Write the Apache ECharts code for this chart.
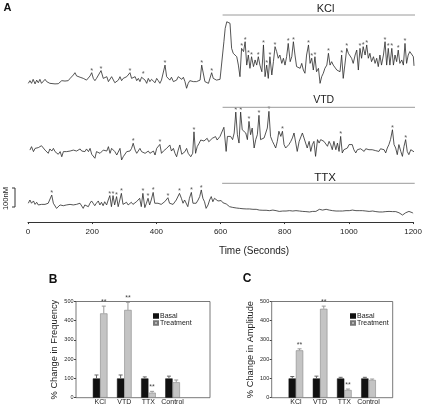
<!DOCTYPE html>
<html><head><meta charset="utf-8">
<script src="https://cdn.jsdelivr.net/npm/echarts@6/dist/echarts.min.js"></script>
<style>html,body{margin:0;padding:0;background:#fff}#c{width:425px;height:410px}</style>
</head><body><div id="c"></div>
<script>
// ---- Panel A traces: [time (s), Ca2+ change (nM, relative to baseline)] ----
const kclTrace = [[1,-7],[6,7],[11,-7],[16,14],[22,-10],[27,10],[32,-4],[37,14],[42,-7],[48,2],[53,14],[58,2],[63,0],[68,-7],[74,-7],[84,-10],[94,-9],[100,-4],[105,7],[115,5],[120,10],[125,7],[131,19],[136,28],[141,37],[146,49],[151,32],[157,28],[162,25],[167,32],[172,19],[177,14],[182,10],[188,14],[193,32],[198,49],[203,19],[208,7],[213,19],[219,28],[227,60],[234,19],[239,10],[245,28],[250,2],[255,-7],[260,28],[265,32],[270,-4],[276,-10],[281,10],[286,28],[291,7],[296,19],[302,25],[307,28],[312,32],[317,49],[322,19],[327,10],[333,28],[338,7],[343,19],[348,2],[353,25],[358,32],[364,10],[369,-7],[374,19],[379,2],[384,14],[390,7],[395,-4],[400,19],[405,7],[410,-7],[415,10],[421,14],[426,89],[431,28],[436,19],[441,10],[446,25],[452,2],[457,-7],[462,10],[467,28],[472,32],[478,14],[483,25],[488,2],[493,-33],[498,-7],[503,7],[509,14],[514,2],[519,-4],[524,2],[530,0],[535,10],[540,89],[550,2],[555,-4],[561,-7],[566,-7],[571,49],[576,19],[581,28],[586,10],[592,5],[597,14],[603,19],[609,212],[613,282],[618,317],[623,326],[628,309],[633,177],[638,151],[644,142],[649,133],[654,89],[659,28],[664,177],[670,160],[675,212],[680,89],[685,142],[690,72],[695,133],[701,81],[706,116],[711,89],[716,133],[721,89],[727,54],[732,195],[737,28],[742,89],[747,19],[752,133],[758,37],[763,107],[768,186],[773,160],[778,125],[783,142],[789,98],[794,125],[799,89],[804,133],[809,203],[815,107],[820,133],[825,212],[830,142],[835,81],[840,89],[846,72],[851,98],[856,63],[861,46],[866,142],[872,195],[877,98],[882,125],[887,63],[892,133],[897,54],[903,72],[908,-7],[913,28],[918,46],[923,72],[929,89],[934,151],[939,89],[944,107],[949,89],[954,81],[960,63],[965,54],[970,54],[975,142],[980,19],[985,89],[991,177],[996,151],[1001,160],[1006,125],[1011,98],[1017,142],[1022,168],[1027,63],[1032,177],[1037,125],[1042,186],[1048,142],[1053,195],[1058,125],[1063,151],[1068,107],[1074,133],[1079,98],[1084,125],[1089,81],[1094,142],[1099,89],[1105,142],[1110,212],[1115,89],[1120,177],[1125,89],[1131,177],[1136,89],[1141,142],[1146,107],[1151,168],[1156,98],[1162,116],[1167,89],[1172,203],[1177,98],[1182,142],[1187,160],[1193,151],[1198,133],[1200,85]];
const kclPeaks = [198,227,317,358,426,540,571,664,675,685,695,716,732,742,752,768,809,825,872,882,892,934,975,991,1032,1042,1053,1110,1120,1131,1151,1172];

const vtdTrace = [[6,-11],[11,7],[17,-19],[22,-2],[27,-11],[32,2],[37,-5],[42,12],[48,19],[53,-11],[58,-19],[63,-28],[68,-5],[74,-16],[79,-2],[84,-19],[89,-11],[94,-33],[100,-19],[105,-46],[110,-19],[115,-16],[120,-19],[125,-28],[131,-16],[136,-19],[141,-11],[146,-19],[151,-16],[157,-11],[162,-5],[167,-16],[172,-11],[177,-19],[182,-5],[188,-19],[193,-2],[198,-33],[203,-28],[208,-54],[213,-19],[219,-11],[224,-28],[229,-19],[234,-11],[239,-2],[245,-16],[250,7],[255,-28],[260,-2],[265,-11],[270,-19],[276,-37],[281,-28],[286,-2],[291,-63],[296,-46],[302,-37],[307,-19],[312,-11],[317,-16],[322,-2],[327,25],[333,-11],[338,-28],[343,-19],[348,-2],[353,-19],[358,-11],[364,-28],[369,-19],[374,-16],[379,-28],[384,-19],[390,-16],[395,-37],[400,-2],[405,-5],[410,19],[415,-28],[421,-16],[426,-19],[431,-2],[436,-11],[441,16],[446,-16],[452,-2],[457,-28],[462,-46],[467,-11],[472,16],[478,-33],[483,-37],[488,-19],[493,-2],[498,-28],[506,-46],[512,-28],[516,85],[521,-28],[526,7],[532,25],[537,42],[542,33],[547,37],[552,42],[557,51],[562,33],[568,25],[573,51],[578,42],[583,60],[588,42],[594,51],[597,61],[602,53],[609,109],[616,-18],[620,61],[626,53],[630,61],[636,44],[641,79],[646,189],[651,70],[656,26],[661,189],[666,96],[672,88],[677,79],[682,44],[687,140],[692,70],[697,105],[703,0],[708,44],[713,70],[718,172],[723,44],[729,35],[734,53],[739,44],[744,105],[749,193],[754,61],[760,35],[765,18],[770,0],[775,35],[780,88],[786,61],[791,88],[796,18],[801,0],[806,9],[811,18],[817,35],[822,53],[827,79],[832,88],[837,-18],[843,35],[848,44],[853,79],[858,53],[863,44],[868,0],[874,35],[879,-18],[884,18],[889,35],[894,-44],[900,44],[905,26],[910,44],[915,53],[920,35],[925,44],[931,9],[936,35],[941,18],[946,-9],[951,35],[957,-9],[962,26],[967,-18],[972,61],[977,-26],[982,-9],[988,-18],[993,0],[998,18],[1003,26],[1008,18],[1013,-9],[1019,-26],[1024,-9],[1029,-18],[1034,-4],[1039,-14],[1045,-18],[1050,-4],[1055,-14],[1060,-9],[1065,0],[1070,-9],[1076,-4],[1081,-14],[1086,-9],[1091,-18],[1096,-4],[1102,-14],[1107,-9],[1112,-26],[1117,0],[1122,18],[1127,44],[1133,96],[1138,18],[1143,0],[1148,-35],[1153,18],[1159,-18],[1164,-44],[1169,9],[1174,44],[1179,-18],[1184,-35],[1190,-9],[1195,0],[1200,-20]];
const vtdPeaks = [327,410,516,646,661,687,718,749,791,972,1133,1174];

const ttxTrace = [[1,4],[6,21],[11,4],[17,16],[22,-2],[27,9],[32,-5],[37,4],[42,-2],[48,-9],[53,-2],[58,-9],[63,4],[68,12],[74,47],[79,4],[84,4],[89,-23],[94,-23],[100,-5],[105,-2],[110,-9],[115,-2],[120,-5],[125,4],[131,-2],[136,4],[141,-5],[146,4],[151,-2],[157,-9],[162,4],[167,-5],[172,-23],[177,-5],[182,4],[188,-14],[193,4],[198,16],[203,4],[208,-9],[213,4],[219,16],[224,-5],[229,9],[234,-9],[239,12],[245,-5],[250,21],[255,44],[260,-14],[265,44],[270,-5],[276,39],[281,-14],[286,21],[291,56],[296,-2],[302,4],[307,9],[312,-5],[317,4],[322,9],[327,-2],[333,4],[338,12],[343,21],[348,30],[353,-14],[358,56],[364,-19],[369,4],[374,30],[379,-5],[384,21],[390,61],[395,4],[400,-2],[405,4],[410,9],[415,-2],[421,4],[426,12],[431,21],[436,33],[441,4],[446,9],[452,-2],[457,4],[462,21],[467,12],[472,56],[478,30],[483,4],[488,21],[493,12],[498,-14],[503,30],[509,61],[514,4],[519,-5],[524,4],[530,21],[535,39],[540,74],[545,30],[550,12],[555,-23],[561,-5],[566,21],[571,39],[576,12],[581,30],[586,40],[592,16],[597,21],[602,18],[607,7],[613,12],[618,0],[623,-5],[628,-14],[633,-11],[638,-18],[644,-14],[649,-21],[654,-18],[659,-23],[664,-19],[670,-25],[675,-21],[680,-26],[685,-23],[690,-26],[695,-25],[701,-28],[706,-26],[711,-28],[716,-28],[721,-32],[727,-28],[732,-33],[737,-26],[742,-33],[747,-28],[752,-35],[758,-25],[763,-32],[768,-28],[773,-35],[778,-32],[783,-39],[789,-35],[794,-37],[799,-39],[804,-37],[809,-39],[815,-35],[820,-39],[825,-37],[830,-40],[835,-35],[840,-39],[846,-37],[851,-32],[856,-39],[861,-33],[866,-40],[872,-35],[877,-42],[882,-32],[887,-39],[892,-35],[897,-39],[903,-33],[908,-28],[913,-35],[918,-32],[923,-37],[929,-28],[934,-35],[939,-32],[944,-37],[949,-35],[954,-40],[960,-37],[965,-40],[970,-37],[975,-42],[980,-37],[985,-40],[991,-35],[996,-40],[1001,-35],[1006,-39],[1011,-32],[1017,-39],[1022,-35],[1027,-40],[1032,-35],[1037,-39],[1042,-35],[1048,-40],[1053,-37],[1058,-42],[1063,-39],[1068,-42],[1074,-37],[1079,-42],[1084,-40],[1089,-46],[1094,-42],[1099,-49],[1105,-42],[1110,-47],[1115,-40],[1120,-46],[1125,-39],[1131,-44],[1136,-40],[1141,-47],[1146,-40],[1151,-37],[1156,-46],[1162,-39],[1167,-58],[1172,-49],[1177,-46],[1182,-42],[1187,-39],[1193,-40],[1198,-46],[1200,-49]];
const ttxPeaks = [74,255,265,276,291,358,374,390,436,472,509,540];

const treatStart = 605, treatEnd = 1205;

// ---- Panels B and C ----
const categories = ['KCl','VTD','TTX','Control'];
const freqBasal = [100,100,100,100];
const freqBasalErr = [18,18,8,12];
const freqTreat = [438,456,26,80];
const freqTreatErr = [38,40,7,12];
const freqSig = ['**','**','**',''];
const ampBasal = [100,100,100,100];
const ampBasalErr = [10,12,6,6];
const ampTreat = [246,462,40,92];
const ampTreatErr = [8,14,5,5];
const ampSig = ['**','**','**',''];

// ---- layout ----
const FONT = 'Liberation Sans, Arial, Helvetica, sans-serif';
const S = 100/19;            // nM per pixel (100 nM scale bar = 19 px)
function traceGrid(basePx, min, max){ return {left:28, width:386, top: basePx - max/S, height:(max-min)/S}; }
const T = [
  {data:kclTrace, peaks:kclPeaks, base:82,  min:-70, max:360, linePx:15},
  {data:vtdTrace, peaks:vtdPeaks, base:148, min:-70, max:220, linePx:107.3},
  {data:ttxTrace, peaks:ttxPeaks, base:204, min:-95, max:115, linePx:183.3}
];
const BAR_W = 7.3;
const chart = echarts.init(document.getElementById('c'), null, {renderer:'canvas'});

const grids = T.map(t => traceGrid(t.base, t.min, t.max));
grids.push({left:76, top:301.5, width:134, height:96.2, show:true, borderColor:'#555', borderWidth:0.8, backgroundColor:'transparent'});
grids.push({left:271.7, top:301.5, width:121, height:96.2, show:true, borderColor:'#555', borderWidth:0.8, backgroundColor:'transparent'});

const xAxes = T.map((t,i) => ({
  type:'value', gridIndex:i, min:0, max:1200, interval:200, show:i===2,
  axisLine:{onZero:false, lineStyle:{color:'#333', width:1}},
  axisTick:{length:2, lineStyle:{color:'#333'}},
  axisLabel:{fontSize:8, color:'#222', fontFamily:FONT, margin:6, formatter:v => String(v)},
  splitLine:{show:false}
}));
function catAxis(gi, max){
  return {type:'value', gridIndex:gi, min:-1, max:max, interval:1,
    axisLine:{show:false, onZero:false}, axisTick:{show:false}, splitLine:{show:false},
    axisLabel:{fontSize:7, color:'#222', fontFamily:FONT, margin:1,
      formatter:v => (Number.isInteger(v) && v>=0 && v<categories.length) ? categories[v] : ''}};
}
xAxes.push(catAxis(3, 4.55));
xAxes.push(catAxis(4, 4));

const yAxes = T.map((t,i) => ({type:'value', gridIndex:i, min:t.min, max:t.max, show:false}));
function pctAxis(gi, name){
  return {type:'value', gridIndex:gi, min:0, max:500, interval:100,
    axisLine:{show:false, onZero:false}, splitLine:{show:false},
    axisTick:{show:true, length:2, lineStyle:{color:'#444'}},
    axisLabel:{fontSize:5.5, color:'#222', fontFamily:FONT, margin:2.5},
    name:name, nameLocation:'middle', nameGap:17, nameRotate:90,
    nameTextStyle:{fontSize:9.3, color:'#222', fontFamily:FONT}};
}
yAxes.push(pctAxis(3, '% Change in Frequency'));
yAxes.push(pctAxis(4, '% Change in Amplitude'));

const series = [];
T.forEach((t,i) => {
  series.push({type:'line', xAxisIndex:i, yAxisIndex:i, data:t.data, symbol:'none', silent:true,
    lineStyle:{color:'#2a2a2a', width:0.8}});
  const yv = (t.base - t.linePx)*S;
  series.push({type:'line', xAxisIndex:i, yAxisIndex:i, symbol:'none', silent:true, clip:false,
    data:[[treatStart,yv],[treatEnd,yv]], lineStyle:{color:'#9a9a9a', width:1}});
  series.push({type:'scatter', xAxisIndex:i, yAxisIndex:i, symbolSize:0, silent:true,
    data:t.data.filter(d => t.peaks.indexOf(d[0]) >= 0),
    label:{show:true, formatter:'*', position:'top', distance:-2, fontSize:7.5, color:'#333', fontFamily:FONT}});
});

function barSeries(gi, name, vals, color, border){
  return {type:'bar', name:name, xAxisIndex:gi, yAxisIndex:gi, barWidth:BAR_W, barGap:'0%',
    data:vals.map((v,i)=>[i,v]), silent:true,
    itemStyle:{color:color, borderColor:border, borderWidth:0.5}};
}
function errSeries(gi, vals, errs, side, color, sig){
  return {type:'custom', xAxisIndex:gi, yAxisIndex:gi, silent:true, z:5,
    data:vals.map((v,i)=>[i,v,errs[i]]),
    renderItem:(params, api) => {
      const x = api.value(0), v = api.value(1), e = api.value(2);
      const p0 = api.coord([x,v]), p1 = api.coord([x,v+e]);
      const cx = p0[0] + side*BAR_W/2;
      const ch = [
        {type:'line', shape:{x1:cx,y1:p0[1],x2:cx,y2:p1[1]}, style:{stroke:color, lineWidth:1}},
        {type:'line', shape:{x1:cx-2,y1:p1[1],x2:cx+2,y2:p1[1]}, style:{stroke:color, lineWidth:1}}
      ];
      const s = sig ? sig[params.dataIndex] : '';
      if (s) ch.push({type:'text', style:{text:s, x:cx, y:p1[1]-0.5, align:'center', verticalAlign:'bottom',
        fontSize:7, fontFamily:FONT, fill:'#444'}});
      return {type:'group', children:ch};
    }};
}
const BASAL_C = '#111', TREAT_C = '#c4c4c4';
series.push(barSeries(3,'Basal',freqBasal,BASAL_C,'#111'));
series.push(barSeries(3,'Treatment',freqTreat,TREAT_C,'#777'));
series.push(errSeries(3,freqBasal,freqBasalErr,-1,'#666',null));
series.push(errSeries(3,freqTreat,freqTreatErr,1,'#999',freqSig));
series.push(barSeries(4,'Basal',ampBasal,BASAL_C,'#111'));
series.push(barSeries(4,'Treatment',ampTreat,TREAT_C,'#777'));
series.push(errSeries(4,ampBasal,ampBasalErr,-1,'#666',null));
series.push(errSeries(4,ampTreat,ampTreatErr,1,'#999',ampSig));

function legendAt(left){
  return {left:left, top:307.5, orient:'vertical', itemWidth:4, itemHeight:3.5, itemGap:0,
    icon:'rect', selectedMode:false, data:['Basal','Treatment'],
    textStyle:{fontSize:7, lineHeight:7, color:'#222', fontFamily:FONT, padding:[0,0,0,-3]}};
}

const txt = (x,y,text,size,extra) => Object.assign({type:'text', x:x, y:y, silent:true,
  style:Object.assign({text:text, fontSize:size, fontFamily:FONT, fill:'#222', align:'center', verticalAlign:'middle'}, extra||{})});

chart.setOption({
  animation:false,
  textStyle:{fontFamily:FONT},
  grid:grids, xAxis:xAxes, yAxis:yAxes, series:series,
  legend:[legendAt(148), legendAt(345)],
  graphic:[
    txt(7.5,8,'A',11,{fontWeight:'bold', fill:'#111'}),
    txt(53,280,'B',12,{fontWeight:'bold', fill:'#111'}),
    txt(247,279,'C',12,{fontWeight:'bold', fill:'#111'}),
    txt(325.5,9,'KCl',11),
    txt(323.7,100,'VTD',10.5),
    txt(325,177.8,'TTX',11.5),
    txt(254,251,'Time (Seconds)',10),
    Object.assign(txt(5.5,198.5,'100nM',7.6), {rotation:Math.PI/2}),
    {type:'polyline', silent:true, shape:{points:[[12,188],[15,188],[15,207],[12,207]]}, style:{stroke:'#333', lineWidth:1, fill:null}}
  ]
});
</script></body></html>
